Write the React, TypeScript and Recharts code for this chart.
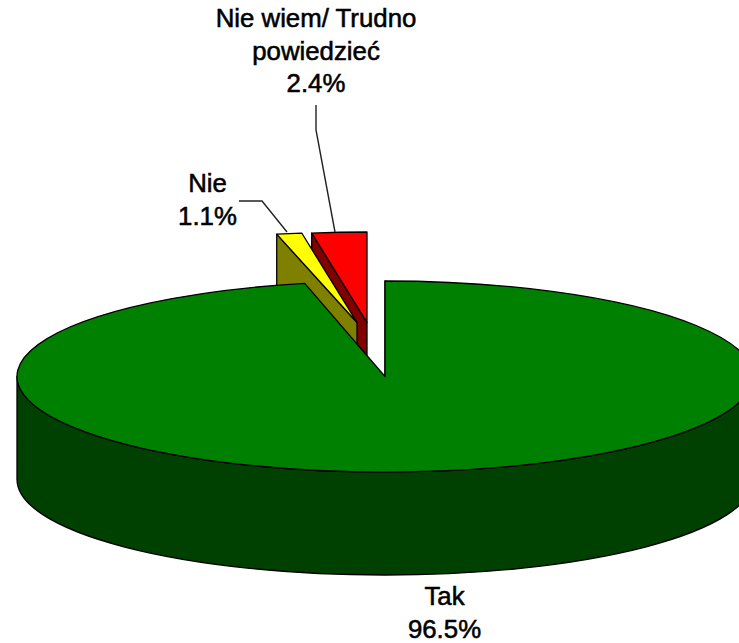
import { PieChart, Pie } from "recharts";

const categories = ["Nie wiem/ Trudno powiedzieć", "Nie", "Tak"];
const shares = [2.4, 1.1, 96.5];

const topColors = ["#ff0000", "#ffff00", "#008000"];
const wallColors = ["#800000", "#808000", "#004000"];

// how far each slice is pulled out of the pie, and its flattening
const sliceOffsets = [
  { dx: -18, dy: -54, ry: 90.5 },
  { dx: -28, dy: -54, ry: 90.5 },
  { dx: 0, dy: 0, ry: 95.5 },
];

const DEPTH = 103;

const labelLines = [
  ["Nie wiem/ Trudno", "powiedzieć"],
  ["Nie"],
  ["Tak"],
];
const labelSpots = [
  { x: 316, y: 27 },
  { x: 207.5, y: 192 },
  { x: 444.5, y: 605 },
];
const leaders = [
  "M316 105 L316 130 L335 232",
  "M239 201 L262 201 L287 232",
  "",
];

const tableData = categories.map((name, i) => ({ name, value: shares[i] }));

const rad = (deg: number) => (deg * Math.PI) / 180;

const Slice3D = (props: any) => {
  const { cx, cy, outerRadius, startAngle, endAngle, index } = props;
  const { dx, dy, ry } = sliceOffsets[index];
  const ax = cx + dx;
  const ay = cy + dy;
  const rim = (deg: number) => ({
    x: ax + outerRadius * Math.cos(rad(deg)),
    y: ay - ry * Math.sin(rad(deg)),
  });
  const arcHead = `A${outerRadius} ${ry} 0`;
  const s = rim(startAngle);
  const e = rim(endAngle);
  const large = Math.abs(endAngle - startAngle) > 180 ? 1 : 0;
  const top = `M${ax} ${ay} L${s.x} ${s.y} ${arcHead} ${large} 0 ${e.x} ${e.y} Z`;
  const cutFace = `M${ax} ${ay} L${e.x} ${e.y} L${e.x} ${e.y + DEPTH} L${ax} ${ay + DEPTH} Z`;

  // only the big slice reaches the front half of the rim
  const showsFront = startAngle < 180 && endAngle > 360;
  const l = rim(180);
  const r = rim(360);
  const front = `M${l.x} ${l.y} ${arcHead} 0 0 ${r.x} ${r.y} L${r.x} ${r.y + DEPTH} ${arcHead} 0 1 ${l.x} ${l.y + DEPTH} Z`;

  return (
    <g stroke="#000" strokeWidth={1.3} strokeLinejoin="round">
      <path d={cutFace} fill={wallColors[index]} />
      {showsFront && <path d={front} fill={wallColors[index]} />}
      <path d={top} fill={topColors[index]} />
    </g>
  );
};

const renderLabel = (props: any) => {
  const { index, value } = props;
  const spot = labelSpots[index];
  const lines = [...labelLines[index], `${value.toFixed(1)}%`];
  return (
    <g key={index}>
      {leaders[index] && <path d={leaders[index]} fill="none" stroke="#222" strokeWidth={1.4} />}
      <text
        x={spot.x}
        y={spot.y}
        textAnchor="middle"
        fontFamily="'Liberation Sans', Arial, sans-serif"
        fontSize={25.8}
        fill="#000"
        stroke="#000"
        strokeWidth={0.55}
      >
        {lines.map((line, i) => (
          <tspan key={line} x={spot.x} dy={i === 0 ? 0 : 32.5}>
            {line}
          </tspan>
        ))}
      </text>
    </g>
  );
};

export default function App() {
  return (
    <div style={{ position: "absolute", left: 0, top: 0, width: 739, height: 643, overflow: "hidden", background: "#fff" }}>
      <PieChart width={739} height={643} margin={{ top: 0, right: 0, bottom: 0, left: 0 }}>
        <Pie
          data={tableData}
          dataKey="value"
          nameKey="name"
          cx={385}
          cy={376.5}
          innerRadius={0}
          outerRadius={368}
          startAngle={90}
          endAngle={450}
          paddingAngle={0}
          shape={Slice3D}
          label={renderLabel}
          labelLine={false}
          isAnimationActive={false}
        />
      </PieChart>
    </div>
  );
}
